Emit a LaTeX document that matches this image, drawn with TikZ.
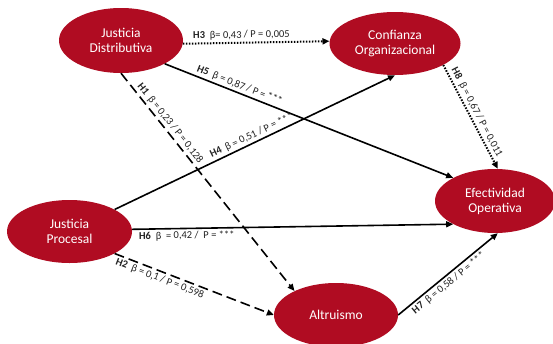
\documentclass[tikz,border=0pt]{standalone}
\usepackage{fontspec}
\setmainfont{Carlito}
\usetikzlibrary{arrows.meta,shapes.geometric}
\definecolor{nodered}{RGB}{176,12,34}
\definecolor{lbl}{RGB}{35,35,35}
\begin{document}
\begin{tikzpicture}[x=1pt,y=-1pt,
 constr/.style={ellipse, fill=nodered, draw=none, text=white, align=center, inner sep=0pt, font=\fontsize{13.5}{15}\selectfont},
 link/.style={line width=1.6pt, -{Triangle[length=7pt,width=6pt]}},
 dashlink/.style={link, dash pattern=on 10pt off 5pt},
 dotlink/.style={link, line width=2pt, dash pattern=on 1.5pt off 1.5pt},
 hlab/.style={font=\fontsize{10.5}{12}\selectfont, text=lbl, inner sep=2pt, sloped}
]
\useasboundingbox[fill=white] (0,0) rectangle (553,343);
\node[constr, minimum width=124pt, minimum height=65pt] (jd) at (121,40.5) {Justicia\\Distributiva};
\node[constr, minimum width=131pt, minimum height=63pt] (co) at (395,43.5) {Confianza\\Organizacional};
\node[constr, minimum width=120pt, minimum height=64pt] (eo) at (495,201) {Efectividad\\Operativa};
\node[constr, minimum width=125pt, minimum height=63pt] (jp) at (69.5,231.5) {Justicia\\Procesal};
\node[constr, minimum width=124pt, minimum height=64pt] (al) at (336,315) {Altruismo};

\draw[dotlink] (jd.-3) -- node[hlab, above, pos=0.40] {\textbf{H3}~~β= 0,43 / P = 0,005} (co.178);
\draw[link] (jd.-28) -- node[hlab, above, pos=0.25] {\textbf{H5}~~β = 0,87 / P = ***} (eo.151);
\draw[dashlink] (jd.-90) -- node[hlab, above, pos=0.25] {\textbf{H1}~~β = 0,23 / P = 0,128} (al.150);
\draw[link] (jp.26) -- node[hlab, above, pos=0.50] {\textbf{H4}~~β = 0,51 / P = ***} (co.-90);
\draw[link] (jp.2) -- node[hlab, below, pos=0.17] {\textbf{H6}~~β~~= 0,42 /~~P = ***} (eo.-151);
\draw[dashlink] (jp.-26) -- node[hlab, below, pos=0.30] {\textbf{H2}~~β = 0,1 / P = 0,598} (al.180);
\draw[link] (al.0) -- node[hlab, below, pos=0.46] {\textbf{H7}~~β = 0,58 / P = ***} (eo.-85);
\draw[dotlink] (co.-24) -- node[hlab, above, pos=0.49] {\textbf{H8}~~β = 0,67 / P = 0,011} (eo.85);
\end{tikzpicture}
\end{document}
